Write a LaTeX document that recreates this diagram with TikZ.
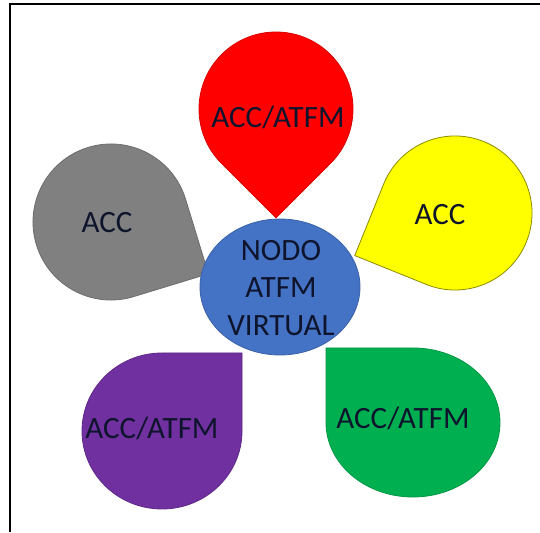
\documentclass[tikz,border=0pt]{standalone}
\usepackage{fontspec}
\setmainfont{Carlito}
\usetikzlibrary{shapes.geometric}
\definecolor{cred}{RGB}{255,0,0}
\definecolor{cyel}{RGB}{255,255,0}
\definecolor{cgry}{RGB}{128,128,128}
\definecolor{cgrn}{RGB}{0,176,80}
\definecolor{cpur}{RGB}{112,48,160}
\definecolor{cblu}{RGB}{68,114,196}
\definecolor{ctxt}{RGB}{15,20,45}
\begin{document}
\begin{tikzpicture}[x=1pt,y=1pt,
  petal/.style={line width=0.8pt},
  lbl/.style={font=\fontsize{31}{34}\selectfont, text=ctxt, inner sep=0pt},
  hub/.style={font=\fontsize{31}{37.5}\selectfont, text=ctxt, align=center, inner sep=0pt}]
\useasboundingbox (0,0) rectangle (540,532);
\fill[white] (0,0) rectangle (540,532);
% frame (only top and left edges visible)
\draw[line width=2pt, black] (9.5,0) -- (9.5,527.5) -- (540,527.5);
% red petal (tip down)
\filldraw[petal, fill=cred, draw=cred!85!black, shift={(276,423)}, rotate=-135]
  (77,0) -- (77,77) -- (0,77) arc[start angle=90, end angle=360, radius=77] -- cycle;
% grey petal
\filldraw[petal, fill=cgry, draw=cgry!85!black, shift={(111,310)}, rotate=-73]
  (78,0) -- (78,78) -- (0,78) arc[start angle=90, end angle=360, radius=78] -- cycle;
% yellow petal
\filldraw[petal, fill=cyel, draw=cyel!55!black, shift={(455,319)}, rotate=158]
  (77,0) -- (77,77) -- (0,77) arc[start angle=90, end angle=360, radius=77] -- cycle;
% green petal (corner top-left)
\filldraw[petal, fill=cgrn, draw=cgrn!85!black]
  (413,184) -- (326,184) -- (326,109.5) arc[start angle=180, end angle=450, x radius=87, y radius=74.5] -- cycle;
% purple petal (corner top-right)
\filldraw[petal, fill=cpur, draw=cpur!85!black]
  (162,179) -- (242,179) -- (242,101) arc[start angle=0, end angle=-270, x radius=80, y radius=78] -- cycle;
% hub
\node[ellipse, fill=cblu, draw=cblu!85!black, line width=0.8pt, minimum width=160pt, minimum height=136pt, inner sep=0pt] (hub) at (280,245) {};
\node[hub] (hubtxt) at (281,244) {NODO\\ATFM\\VIRTUAL};
% labels
\node[lbl] (lred) at (278,415) {ACC/ATFM};
\node[lbl] (lgry) at (107,309) {ACC};
\node[lbl] (lyel) at (440,317) {ACC};
\node[lbl] (lgrn) at (403,114) {ACC/ATFM};
\node[lbl] (lpur) at (152,104) {ACC/ATFM};
\end{tikzpicture}
\end{document}
